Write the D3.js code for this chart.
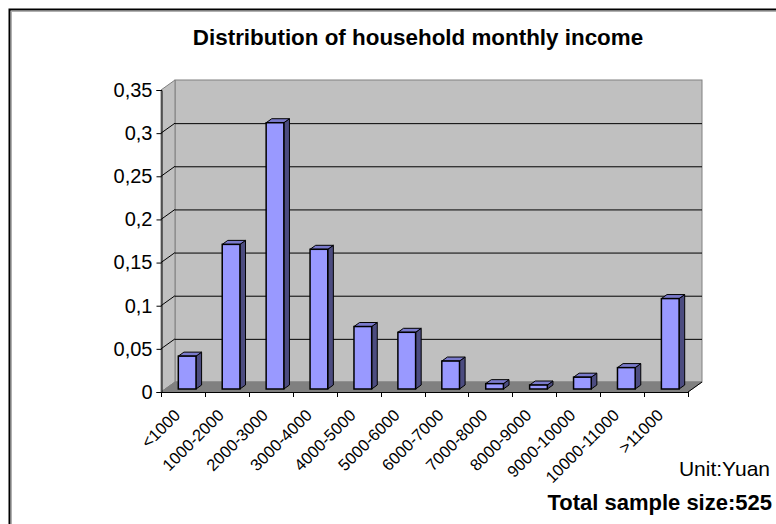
<!DOCTYPE html>
<html>
<head>
<meta charset="utf-8">
<script src="https://cdn.jsdelivr.net/npm/d3@7/dist/d3.min.js"></script>
<style>
  html, body { margin: 0; padding: 0; background: #ffffff; }
  svg { display: block; font-family: "Liberation Sans", Arial, sans-serif; }
</style>
</head>
<body>
<svg id="chart" width="776" height="524"></svg>
<script>
// ---- data ----
const categories = ["<1000", "1000-2000", "2000-3000", "3000-4000", "4000-5000", "5000-6000",
  "6000-7000", "7000-8000", "8000-9000", "9000-10000", "10000-11000", ">11000"];
const shares = [0.0381, 0.1676, 0.3086, 0.1619, 0.0724, 0.0657, 0.0324, 0.0062, 0.0046, 0.0137, 0.0248, 0.1048];
const yTicks = [0, 0.05, 0.1, 0.15, 0.2, 0.25, 0.3, 0.35];
const yTickLabels = ["0", "0,05", "0,1", "0,15", "0,2", "0,25", "0,3", "0,35"];
const titleText = "Distribution of household monthly income";
const unitText = "Unit:Yuan";
const sampleText = "Total sample size:525";

// ---- layout ----
const svg = d3.select("#chart");
const X0 = 161, X1 = 688, Y0 = 392, YT = 90;
const DX = 14, DY = -10;           // depth offset of back wall
const fFront = 0.3, fBack = 0.7;   // bar depth position (fraction of depth)

const x = d3.scaleBand().domain(categories).range([X0, X1]).padding(0);
const y = d3.scaleLinear().domain([0, 0.35]).range([Y0, YT]);

// outer frame
svg.append("rect").attr("x", 9.5).attr("y", 9.5).attr("width", 900).attr("height", 900)
  .attr("fill", "#fff").attr("stroke", "#000").attr("stroke-width", 2);
svg.append("line").attr("x1", 11).attr("x2", 900).attr("y1", 11.5).attr("y2", 11.5)
  .attr("stroke", "#b0b0b0").attr("stroke-width", 1);
svg.append("line").attr("x1", 11.5).attr("x2", 11.5).attr("y1", 11).attr("y2", 900)
  .attr("stroke", "#b0b0b0").attr("stroke-width", 1);

// back wall
svg.append("rect")
  .attr("x", X0 + DX).attr("y", y(0.35) + DY)
  .attr("width", X1 - X0).attr("height", y(0) - y(0.35))
  .attr("fill", "#c0c0c0").attr("stroke", "#808080").attr("stroke-width", 1);

// side wall
svg.append("polygon")
  .attr("points", [[X0, y(0)], [X0, y(0.35)], [X0 + DX, y(0.35) + DY], [X0 + DX, y(0) + DY]].join(" "))
  .attr("fill", "#c0c0c0").attr("stroke", "#808080").attr("stroke-width", 1);

// floor
svg.append("polygon")
  .attr("points", [[X0, y(0)], [X1, y(0)], [X1 + DX, y(0) + DY], [X0 + DX, y(0) + DY]].join(" "))
  .attr("fill", "#808080").attr("stroke", "#808080").attr("stroke-width", 1);

// gridlines
const grid = yTicks.filter(v => v > 0 && v < 0.35);
svg.append("g").selectAll("line.gb").data(grid).join("line")
  .attr("x1", X0 + DX).attr("x2", X1 + DX)
  .attr("y1", d => y(d) + DY + 0.5).attr("y2", d => y(d) + DY + 0.5)
  .attr("stroke", "#000").attr("stroke-width", 1);
svg.append("g").selectAll("line.gs").data(grid).join("line")
  .attr("x1", X0).attr("x2", X0 + DX)
  .attr("y1", d => y(d)).attr("y2", d => y(d) + DY)
  .attr("stroke", "#000").attr("stroke-width", 1);

// floor right edge
svg.append("line").attr("x1", X1).attr("y1", y(0)).attr("x2", X1 + DX).attr("y2", y(0) + DY)
  .attr("stroke", "#000").attr("stroke-width", 1);

// bars
const bw = x.bandwidth() * 0.403;
const fx = DX * fFront, fy = DY * fFront;
const sx = DX * (fBack - fFront), sy = DY * (fBack - fFront);
const bars = svg.append("g").selectAll("g").data(shares.map((v, i) => ({ c: categories[i], v })))
  .join("g");
bars.each(function (d) {
  const g = d3.select(this);
  const xl = x(d.c) + x.bandwidth() / 2 - bw / 2 + fx;
  const xr = xl + bw;
  const yt = y(d.v) + fy, yb = y(0) + fy;
  g.append("polygon")
    .attr("points", [[xr, yt], [xr + sx, yt + sy], [xr + sx, yb + sy], [xr, yb]].join(" "))
    .attr("fill", "#4c4c80").attr("stroke", "#000").attr("stroke-width", 1).attr("stroke-linejoin", "round");
  g.append("polygon")
    .attr("points", [[xl, yt], [xl + sx, yt + sy], [xr + sx, yt + sy], [xr, yt]].join(" "))
    .attr("fill", "#7a7acc").attr("stroke", "#000").attr("stroke-width", 1).attr("stroke-linejoin", "round");
  g.append("rect")
    .attr("x", xl).attr("y", yt).attr("width", bw).attr("height", yb - yt)
    .attr("fill", "#9999ff").attr("stroke", "#000").attr("stroke-width", 1.5);
});

// y axis
const yAxis = d3.axisLeft(y).tickValues(yTicks).tickSize(5).tickPadding(4)
  .tickFormat((d, i) => yTickLabels[i]);
const gy = svg.append("g").attr("transform", `translate(${X0 + 0.5},0)`).call(yAxis);
gy.select(".domain").attr("stroke", "#000");
gy.selectAll("text").attr("font-size", 20).attr("fill", "#000")
  .attr("font-family", "Liberation Sans, Arial, sans-serif");

// x axis line + ticks
const xb = svg.append("g");
xb.append("line").attr("x1", X0).attr("x2", X1).attr("y1", Y0 + 0.5).attr("y2", Y0 + 0.5).attr("stroke", "#000");
const tickPos = categories.map(c => x(c)).concat([X1]);
xb.selectAll("line.t").data(tickPos).join("line")
  .attr("x1", d => Math.round(d) + 0.5).attr("x2", d => Math.round(d) + 0.5)
  .attr("y1", Y0).attr("y2", Y0 + 5).attr("stroke", "#000");

// x labels
svg.append("g").selectAll("text").data(categories).join("text")
  .attr("transform", d => `translate(${x(d) + x.bandwidth() / 2 - 10},${Y0 + 16}) rotate(-45)`)
  .attr("text-anchor", "end").attr("dy", "0.7em")
  .attr("font-size", 16.5).attr("fill", "#000")
  .text(d => d);

// title & notes
svg.append("text").attr("x", 418).attr("y", 45).attr("text-anchor", "middle")
  .attr("font-size", 22.4).attr("font-weight", "bold").text(titleText);
svg.append("text").attr("x", 770).attr("y", 476).attr("text-anchor", "end")
  .attr("font-size", 21).text(unitText);
svg.append("text").attr("x", 772).attr("y", 510).attr("text-anchor", "end")
  .attr("font-size", 22).attr("font-weight", "bold").text(sampleText);
</script>
</body>
</html>
